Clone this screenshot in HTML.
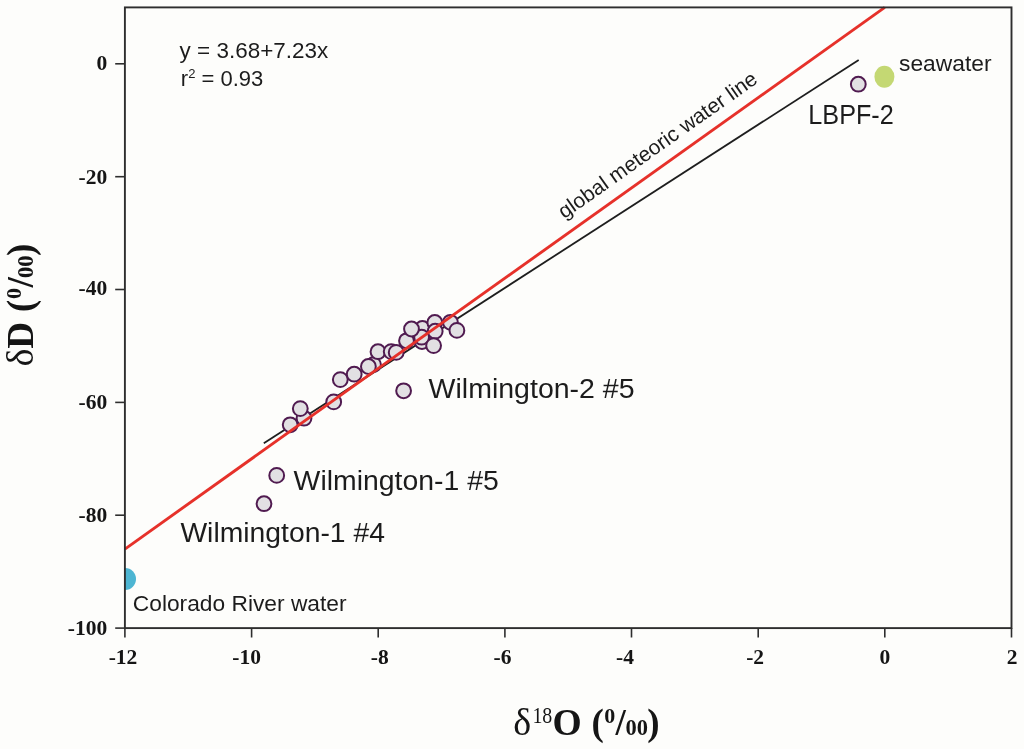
<!DOCTYPE html>
<html><head><meta charset="utf-8">
<style>
html,body{margin:0;padding:0;background:#fdfdfb;}
body{width:1024px;height:749px;overflow:hidden;}
svg{display:block;will-change:transform;}
.ax{font-family:"Liberation Serif",serif;font-weight:bold;font-size:21.5px;fill:#151515;}
.an{font-family:"Liberation Sans",sans-serif;fill:#1c1c1c;}
</style></head>
<body>
<svg width="1024" height="749" viewBox="0 0 1024 749">
<defs><clipPath id="pc"><rect x="124.9" y="7.4" width="886.6" height="620.7"/></clipPath></defs>
<line x1="263.8" y1="443.2" x2="858.7" y2="59.9" stroke="#1e1e1e" stroke-width="1.8"/>
<g clip-path="url(#pc)"><ellipse cx="125.2" cy="579" rx="10.8" ry="11" fill="#4db5d2"/></g>
<ellipse cx="884.4" cy="76.7" rx="10" ry="11" fill="#c4d873"/>
<g fill="#e2e0e3" stroke="#501b50" stroke-width="2">
<circle cx="304.0" cy="418.2" r="7.4"/>
<circle cx="290.2" cy="424.8" r="7.4"/>
<circle cx="300.3" cy="408.6" r="7.4"/>
<circle cx="333.7" cy="401.9" r="7.4"/>
<circle cx="340.3" cy="379.6" r="7.4"/>
<circle cx="354.2" cy="374.2" r="7.4"/>
<circle cx="373.5" cy="364.6" r="7.4"/>
<circle cx="368.4" cy="366.5" r="7.4"/>
<circle cx="378.0" cy="351.7" r="7.4"/>
<circle cx="391.2" cy="351.6" r="7.4"/>
<circle cx="396.2" cy="352.4" r="7.4"/>
<circle cx="406.5" cy="340.8" r="7.4"/>
<circle cx="422.4" cy="328.5" r="7.4"/>
<circle cx="422.0" cy="341.5" r="7.4"/>
<circle cx="421.6" cy="337.2" r="7.4"/>
<circle cx="411.5" cy="329.0" r="7.4"/>
<circle cx="434.8" cy="322.5" r="7.4"/>
<circle cx="435.2" cy="331.2" r="7.4"/>
<circle cx="433.6" cy="345.6" r="7.4"/>
<circle cx="450.4" cy="322.3" r="7.4"/>
<circle cx="456.9" cy="330.4" r="7.4"/>
<circle cx="403.6" cy="390.8" r="7.4"/>
<circle cx="276.7" cy="475.4" r="7.4"/>
<circle cx="264.0" cy="503.7" r="7.4"/>
<circle cx="858.3" cy="84.2" r="7.4"/>
</g>
<line x1="124.9" y1="549.1" x2="884.8" y2="7.4" stroke="#e6312a" stroke-width="2.9"/>
<rect x="124.9" y="7.4" width="886.6" height="620.7" fill="none" stroke="#2e2e2e" stroke-width="1.9"/>
<g stroke="#2e2e2e" stroke-width="1.6">
<line x1="124.9" y1="628.1" x2="124.9" y2="637.5"/>
<line x1="251.6" y1="628.1" x2="251.6" y2="637.5"/>
<line x1="378.2" y1="628.1" x2="378.2" y2="637.5"/>
<line x1="504.9" y1="628.1" x2="504.9" y2="637.5"/>
<line x1="631.5" y1="628.1" x2="631.5" y2="637.5"/>
<line x1="758.2" y1="628.1" x2="758.2" y2="637.5"/>
<line x1="884.8" y1="628.1" x2="884.8" y2="637.5"/>
<line x1="1011.5" y1="628.1" x2="1011.5" y2="637.5"/>
<line x1="115.2" y1="63.8" x2="124.9" y2="63.8"/>
<line x1="115.2" y1="176.7" x2="124.9" y2="176.7"/>
<line x1="115.2" y1="289.5" x2="124.9" y2="289.5"/>
<line x1="115.2" y1="402.4" x2="124.9" y2="402.4"/>
<line x1="115.2" y1="515.2" x2="124.9" y2="515.2"/>
<line x1="115.2" y1="628.1" x2="124.9" y2="628.1"/>
</g>
<g class="ax" text-anchor="middle">
<text x="123.0" y="663.5">-12</text>
<text x="246.7" y="663.5">-10</text>
<text x="379.7" y="663.5">-8</text>
<text x="502.5" y="663.5">-6</text>
<text x="625.0" y="663.5">-4</text>
<text x="755.1" y="663.5">-2</text>
<text x="884.8" y="663.5">0</text>
<text x="1012.1" y="663.5">2</text>
</g>
<g class="ax" text-anchor="end">
<text x="107.2" y="69.8">0</text>
<text x="107.2" y="183.9">-20</text>
<text x="107.2" y="295.0">-40</text>
<text x="107.2" y="408.5">-60</text>
<text x="107.2" y="521.5">-80</text>
<text x="107.2" y="634.7">-100</text>
</g>
<g font-family="Liberation Serif" fill="#151515">
<text x="513.3" y="735" font-size="38">δ</text>
<text x="532.4" y="722.6" font-size="23.5" textLength="19.9" lengthAdjust="spacingAndGlyphs">18</text>
<text x="552.5" y="735" font-size="37.5" font-weight="bold">O</text>
<text x="591.6" y="735" font-size="37" font-weight="bold">(</text>
<text x="604.3" y="722.5" font-size="22" font-weight="bold">0</text>
<text x="615.5" y="735" font-size="37" font-weight="bold">/</text>
<text x="625.4" y="735" font-size="22.5" font-weight="bold">00</text>
<text x="647.3" y="735" font-size="37" font-weight="bold">)</text>
</g>
<g transform="translate(33.3,0) rotate(-90)" font-family="Liberation Serif" fill="#151515">
<text x="-366.4" y="0" font-size="38">δ</text>
<text x="-348.7" y="0" font-size="37" font-weight="bold">D</text>
<text x="-312.1" y="0" font-size="37" font-weight="bold">(</text>
<text x="-299.1" y="-12.5" font-size="22" font-weight="bold">0</text>
<text x="-287.6" y="0" font-size="37" font-weight="bold">/</text>
<text x="-278" y="0" font-size="22.5" font-weight="bold">00</text>
<text x="-256" y="0" font-size="37" font-weight="bold">)</text>
</g>
<text class="an" x="179.6" y="57.5" font-size="22" textLength="148.6" lengthAdjust="spacingAndGlyphs">y = 3.68+7.23x</text>
<text class="an" x="180.8" y="86.3" font-size="22">r<tspan font-size="13" dy="-8">2</tspan><tspan dy="8"> = 0.93</tspan></text>
<text class="an" x="899.0" y="70.5" font-size="22.5" textLength="92.5" lengthAdjust="spacingAndGlyphs">seawater</text>
<text class="an" x="808.3" y="124.2" font-size="28" textLength="85.5" lengthAdjust="spacingAndGlyphs">LBPF-2</text>
<text class="an" x="428.6" y="398.2" font-size="27.5" textLength="206.0" lengthAdjust="spacingAndGlyphs">Wilmington-2 #5</text>
<text class="an" x="293.6" y="489.8" font-size="27.5" textLength="205.2" lengthAdjust="spacingAndGlyphs">Wilmington-1 #5</text>
<text class="an" x="180.4" y="542.3" font-size="27.5" textLength="204.6" lengthAdjust="spacingAndGlyphs">Wilmington-1 #4</text>
<text class="an" x="132.8" y="611.2" font-size="22" textLength="213.8" lengthAdjust="spacingAndGlyphs">Colorado River water</text>
<g transform="translate(564.3,219.3) rotate(-35.2)"><text class="an" x="0" y="0" font-size="21">global meteoric water line</text></g>
</svg>
</body></html>
